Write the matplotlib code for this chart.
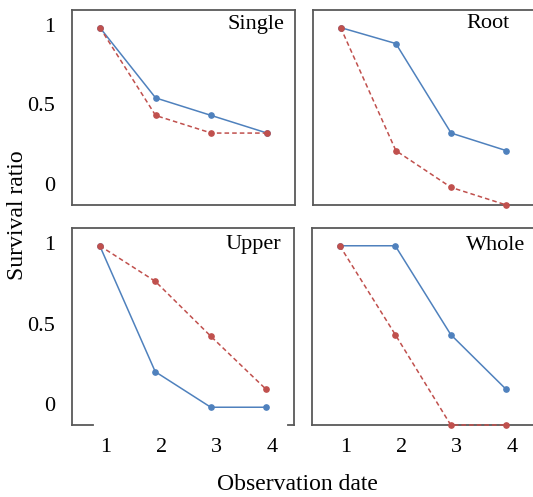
import matplotlib.pyplot as plt
import matplotlib.transforms as mtransforms

plt.rcParams['font.family'] = ['Liberation Serif', 'DejaVu Serif']

dates = [1, 2, 3, 4]
panels = ["Single", "Root", "Upper", "Whole"]

single_blue = [1.0, 0.56, 0.45, 0.34]
single_red = [1.0, 0.45, 0.34, 0.34]
root_blue = [1.0, 0.90, 0.34, 0.23]
root_red = [1.0, 0.23, 0.0, -0.11]
upper_blue = [1.0, 0.22, 0.0, 0.0]
upper_red = [1.0, 0.78, 0.44, 0.11]
whole_blue = [1.0, 1.0, 0.45, 0.11]
whole_red = [1.0, 0.45, -0.11, -0.11]

blue_series = [single_blue, root_blue, upper_blue, whole_blue]
red_series = [single_red, root_red, upper_red, whole_red]

ytick_vals = [0, 0.5, 1]
ytick_labels = ["0", "0.5", "1"]

blue = "#4f81bd"
red = "#c0504d"
spine_col = "#595959"

W, H = 533, 497
fig = plt.figure(figsize=(W / 100, H / 100), dpi=100)

# pixel boxes: left, top, right, bottom
boxes = [(72, 10, 295, 205), (313, 10, 534, 205),
         (72, 228, 294, 425), (312, 228, 534, 425)]
# label anchor (right edge x, center y) in pixels
label_pos = [(284, 24), (510, 24), (281, 244), (525, 245)]

for i, (l, t, r, b) in enumerate(boxes):
    ax = fig.add_axes([l / W, 1 - b / H, (r - l) / W, (b - t) / H])
    ax.plot(dates, blue_series[i], color=blue, lw=1.1, marker='o', ms=3.8, clip_on=False, zorder=3)
    ax.plot(dates, red_series[i], color=red, lw=1.1, ls=(0, (3, 2)), marker='o', ms=3.8, clip_on=False, zorder=4)
    ax.set_xlim(0.5, 4.5)
    ax.set_ylim(-0.11, 1.11)
    for s in ax.spines.values():
        s.set_color(spine_col)
        s.set_linewidth(1.3)
    ax.tick_params(length=0, labelsize=16)
    if i % 2 == 0:
        ax.set_yticks(ytick_vals)
        ax.set_yticklabels(ytick_labels)
        ax.tick_params(axis='y', pad=12)
        off = mtransforms.ScaledTranslation(0, 3 / 100, fig.dpi_scale_trans)
        for lab in ax.get_yticklabels():
            lab.set_transform(lab.get_transform() + off)
    else:
        ax.set_yticks([])
    if i >= 2:
        ax.set_xticks(dates)
        ax.set_xticklabels([str(d) for d in dates])
        ax.tick_params(axis='x', pad=9)
        off = mtransforms.ScaledTranslation(6 / 100, 0, fig.dpi_scale_trans)
        for lab in ax.get_xticklabels():
            lab.set_transform(lab.get_transform() + off)
    else:
        ax.set_xticks([])
    if i == 2:
        ax.spines['bottom'].set_visible(False)
        ax.plot([0, 0.094], [0, 0], transform=ax.transAxes, color=spine_col, lw=1.3, clip_on=False)
        ax.plot([0.973, 1], [0, 0], transform=ax.transAxes, color=spine_col, lw=1.3, clip_on=False)
    lx, ly = label_pos[i]
    fig.text(lx / W, 1 - ly / H, panels[i], ha='right', va='center', fontsize=16)

fig.text(18 / W, 1 - 215 / H, "Survival ratio", rotation=90, ha='center', va='center', fontsize=17)
fig.text(297 / W, 1 - 485 / H, "Observation date", ha='center', va='center', fontsize=17)

fig.savefig("out.png", dpi=100)
